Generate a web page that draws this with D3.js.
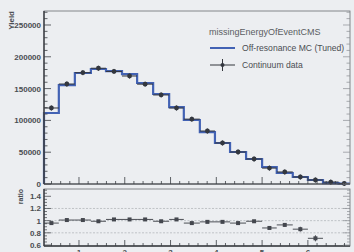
<!DOCTYPE html>
<html>
<head>
<meta charset="utf-8">
<script src="https://cdn.jsdelivr.net/npm/d3@7"></script>
<style>
  html, body { margin: 0; padding: 0; background: #eceef1; }
  svg { display: block; font-family: "Liberation Sans", Arial, sans-serif; }
</style>
</head>
<body>
<script>
var W = 354, H = 252;

// bin edges (GeV)
var binEdges = [0.236, 0.56, 0.91, 1.26, 1.59, 1.94, 2.27, 2.62, 2.97, 3.29, 3.64,
                3.97, 4.30, 4.65, 5.0, 5.32, 5.67, 6.0, 6.33, 6.67, 6.92];
// Off-resonance MC (Tuned)
var mcYield = [111600, 155600, 174500, 180800, 177600, 172900, 158800, 141500, 121000, 100600,
               81700, 64500, 50300, 39300, 26700, 17300, 11000, 6300, 1500, 500];
// Continuum data
var dataYield = [119500, 157200, 175000, 182000, 177000, 169800, 157000, 140000, 119500, 102000,
                 83300, 64500, 50300, 39300, 25000, 18900, 11000, 6300, 3100, 800];
// data / MC ratio panel
var ratioVal = [0.96, 1.01, 1.01, 0.99, 1.02, 1.02, 1.02, 0.99, 1.02, 0.96,
                0.98, 0.98, 0.96, 0.99, 0.88, 0.93, 0.86, 0.71];
var ratioErr = [0.012, 0.01, 0.01, 0.01, 0.01, 0.01, 0.01, 0.01, 0.01, 0.012,
                0.014, 0.016, 0.018, 0.02, 0.025, 0.03, 0.04, 0.05];

var xTicks = [1, 2, 3, 4, 5, 6];
var yTicks = [0, 50000, 100000, 150000, 200000, 250000];
var rTicks = [0.6, 0.8, 1, 1.2, 1.4];
var rGrid = [0.8, 1, 1.2];

var left = 44, right = 350;
var top1 = 11, bot1 = 184;
var top2 = 189, bot2 = 246;

var ink = "#3a3d42";
var blue = "#4262b4";
var lab = "#4a4d52";

var svg = d3.select("body").append("svg")
  .attr("width", W)
  .attr("height", H);

var x = d3.scaleLinear().domain([0.236, 6.92]).range([left, right]);
var y = d3.scaleLinear().domain([0, 272000]).range([bot1, top1]);
var yr = d3.scaleLinear().domain([0.6, 1.52]).range([245, top2]);

// ---------- top panel ----------
var bins = mcYield.map(function(v, i) {
  return { lo: binEdges[i], hi: binEdges[i + 1], mc: v, data: dataYield[i] };
});

// histogram outline
var path = d3.path();
path.moveTo(x(bins[0].lo), y(0));
bins.forEach(function(b) {
  path.lineTo(x(b.lo), y(b.mc));
  path.lineTo(x(b.hi), y(b.mc));
});
svg.append("path")
  .attr("d", path.toString())
  .attr("fill", "none")
  .attr("stroke", blue)
  .attr("stroke-width", 2.2);

// data points with error bars
var pts = svg.append("g");
pts.selectAll("line.h")
  .data(bins)
  .enter()
  .append("line")
  .attr("x1", function(d) { return x(d.lo); })
  .attr("x2", function(d) { return x(d.hi); })
  .attr("y1", function(d) { return y(d.data); })
  .attr("y2", function(d) { return y(d.data); })
  .attr("stroke", "#33363c")
  .attr("stroke-width", 1);
pts.selectAll("line.v")
  .data(bins)
  .enter()
  .append("line")
  .attr("x1", function(d) { return x((d.lo + d.hi) / 2); })
  .attr("x2", function(d) { return x((d.lo + d.hi) / 2); })
  .attr("y1", function(d) { return y(d.data) - 2.5; })
  .attr("y2", function(d) { return y(d.data) + 2.5; })
  .attr("stroke", "#33363c")
  .attr("stroke-width", 1);
pts.selectAll("circle")
  .data(bins)
  .enter()
  .append("circle")
  .attr("cx", function(d) { return x((d.lo + d.hi) / 2); })
  .attr("cy", function(d) { return y(d.data); })
  .attr("r", 2.4)
  .attr("fill", "#33373f");

// frame
svg.append("rect")
  .attr("x", left).attr("y", top1)
  .attr("width", right - left).attr("height", bot1 - top1)
  .attr("fill", "none").attr("stroke", "#6a6d72").attr("stroke-width", 0.8);
svg.append("line")
  .attr("x1", left).attr("x2", left).attr("y1", top1).attr("y2", bot1)
  .attr("stroke", ink).attr("stroke-width", 1.4);
svg.append("line")
  .attr("x1", left).attr("x2", right).attr("y1", bot1).attr("y2", bot1)
  .attr("stroke", ink).attr("stroke-width", 1.2);

// y ticks (left and right)
var yMinor = d3.range(0, 270001, 10000);
svg.append("g").selectAll("line")
  .data(yMinor)
  .enter()
  .append("line")
  .attr("x1", left)
  .attr("x2", function(d) { return left + (d % 50000 === 0 ? 7 : 3.5); })
  .attr("y1", function(d) { return y(d); })
  .attr("y2", function(d) { return y(d); })
  .attr("stroke", ink).attr("stroke-width", 0.8);
svg.append("g").selectAll("line")
  .data(yMinor)
  .enter()
  .append("line")
  .attr("x1", right)
  .attr("x2", function(d) { return right - (d % 50000 === 0 ? 7 : 3.5); })
  .attr("y1", function(d) { return y(d); })
  .attr("y2", function(d) { return y(d); })
  .attr("stroke", "#8a8d92").attr("stroke-width", 0.7);

svg.append("g").selectAll("text")
  .data(yTicks)
  .enter()
  .append("text")
  .attr("x", left - 3)
  .attr("y", function(d) { return y(d) + 3; })
  .attr("text-anchor", "end")
  .attr("font-size", "8px")
  .attr("font-weight", "bold")
  .attr("fill", lab)
  .text(function(d) { return d; });

svg.append("text")
  .attr("transform", "translate(14," + top1 + ") rotate(-90)")
  .attr("text-anchor", "end")
  .attr("font-size", "8px")
  .attr("font-weight", "bold")
  .attr("fill", lab)
  .text("Yield");

// x ticks of top panel
var xMinor = d3.range(0.4, 6.91, 0.2);
function tickLen(d, big) {
  var r = Math.abs(d - Math.round(d));
  if (r < 0.01) return big;
  return 3;
}
svg.append("g").selectAll("line")
  .data(xMinor)
  .enter()
  .append("line")
  .attr("x1", function(d) { return x(d); })
  .attr("x2", function(d) { return x(d); })
  .attr("y1", bot1)
  .attr("y2", function(d) { return bot1 - tickLen(d, 7); })
  .attr("stroke", ink).attr("stroke-width", 0.8);

// ---------- legend ----------
svg.append("text")
  .attr("x", 209).attr("y", 35)
  .attr("font-size", "9px")
  .attr("fill", "#5a5d62")
  .text("missingEnergyOfEventCMS");
svg.append("line")
  .attr("x1", 210).attr("x2", 235).attr("y1", 48).attr("y2", 48)
  .attr("stroke", blue).attr("stroke-width", 2);
svg.append("text")
  .attr("x", 242).attr("y", 51)
  .attr("font-size", "8.6px")
  .attr("fill", "#4a4d52")
  .text("Off-resonance MC (Tuned)");
svg.append("line")
  .attr("x1", 210).attr("x2", 235).attr("y1", 65).attr("y2", 65)
  .attr("stroke", "#33363c").attr("stroke-width", 1);
svg.append("line")
  .attr("x1", 222.5).attr("x2", 222.5).attr("y1", 59).attr("y2", 71)
  .attr("stroke", "#33363c").attr("stroke-width", 1);
svg.append("circle")
  .attr("cx", 222.5).attr("cy", 65).attr("r", 2)
  .attr("fill", "#33373f");
svg.append("text")
  .attr("x", 242).attr("y", 68)
  .attr("font-size", "8.6px")
  .attr("fill", "#4a4d52")
  .text("Continuum data");

// ---------- ratio panel ----------
svg.append("g").selectAll("line")
  .data(rGrid)
  .enter()
  .append("line")
  .attr("x1", left).attr("x2", right)
  .attr("y1", function(d) { return yr(d); })
  .attr("y2", function(d) { return yr(d); })
  .attr("stroke", "#b4b7bb")
  .attr("stroke-width", 0.8)
  .attr("stroke-dasharray", "2,1.5");

var rbins = ratioVal.map(function(v, i) {
  return { lo: binEdges[i], hi: binEdges[i + 1], r: v, e: ratioErr[i] };
});
var rg = svg.append("g");
rg.selectAll("line.h")
  .data(rbins)
  .enter()
  .append("line")
  .attr("x1", function(d) { return x(d.lo); })
  .attr("x2", function(d) { return x(d.hi); })
  .attr("y1", function(d) { return yr(d.r); })
  .attr("y2", function(d) { return yr(d.r); })
  .attr("stroke", "#3a3d44").attr("stroke-width", 0.9);
rg.selectAll("line.v")
  .data(rbins)
  .enter()
  .append("line")
  .attr("x1", function(d) { return x((d.lo + d.hi) / 2); })
  .attr("x2", function(d) { return x((d.lo + d.hi) / 2); })
  .attr("y1", function(d) { return yr(d.r + d.e); })
  .attr("y2", function(d) { return yr(d.r - d.e); })
  .attr("stroke", "#3a3d44").attr("stroke-width", 0.9);
rg.selectAll("rect")
  .data(rbins)
  .enter()
  .append("rect")
  .attr("x", function(d) { return x((d.lo + d.hi) / 2) - 2; })
  .attr("y", function(d) { return yr(d.r) - 2; })
  .attr("width", 4).attr("height", 4)
  .attr("fill", "#44474e");

svg.append("rect")
  .attr("x", left).attr("y", top2)
  .attr("width", right - left).attr("height", bot2 - top2)
  .attr("fill", "none").attr("stroke", "#6a6d72").attr("stroke-width", 0.8);
svg.append("line")
  .attr("x1", left).attr("x2", left).attr("y1", top2).attr("y2", bot2)
  .attr("stroke", ink).attr("stroke-width", 1.4);
svg.append("line")
  .attr("x1", left).attr("x2", right).attr("y1", bot2).attr("y2", bot2)
  .attr("stroke", ink).attr("stroke-width", 1.4);

var rMinor = d3.range(0.6, 1.51, 0.05);
svg.append("g").selectAll("line")
  .data(rMinor)
  .enter()
  .append("line")
  .attr("x1", left)
  .attr("x2", function(d) { return left + (Math.abs(d * 5 - Math.round(d * 5)) < 0.01 ? 7 : 3); })
  .attr("y1", function(d) { return yr(d); })
  .attr("y2", function(d) { return yr(d); })
  .attr("stroke", ink).attr("stroke-width", 0.7);
svg.append("g").selectAll("line")
  .data(rMinor)
  .enter()
  .append("line")
  .attr("x1", right)
  .attr("x2", function(d) { return right - (Math.abs(d * 5 - Math.round(d * 5)) < 0.01 ? 7 : 3); })
  .attr("y1", function(d) { return yr(d); })
  .attr("y2", function(d) { return yr(d); })
  .attr("stroke", "#8a8d92").attr("stroke-width", 0.7);

svg.append("g").selectAll("text")
  .data(rTicks)
  .enter()
  .append("text")
  .attr("x", left - 3)
  .attr("y", function(d) { return yr(d) + 3; })
  .attr("text-anchor", "end")
  .attr("font-size", "8px")
  .attr("font-weight", "bold")
  .attr("fill", lab)
  .text(function(d) { return d; });

svg.append("text")
  .attr("transform", "translate(23," + top2 + ") rotate(-90)")
  .attr("text-anchor", "end")
  .attr("font-size", "7px")
  .attr("font-weight", "bold")
  .attr("fill", lab)
  .text("ratio");

svg.append("g").selectAll("line")
  .data(xMinor)
  .enter()
  .append("line")
  .attr("x1", function(d) { return x(d); })
  .attr("x2", function(d) { return x(d); })
  .attr("y1", bot2)
  .attr("y2", function(d) { return bot2 - tickLen(d, 6); })
  .attr("stroke", ink).attr("stroke-width", 0.8);

// x labels: in the reference they sit right at the bottom edge, partly cut
svg.append("g").selectAll("text")
  .data(xTicks)
  .enter()
  .append("text")
  .attr("x", function(d) { return x(d); })
  .attr("y", 255)
  .attr("text-anchor", "middle")
  .attr("font-size", "8px")
  .attr("font-weight", "bold")
  .attr("fill", lab)
  .text(function(d) { return d; });
</script>
</body>
</html>
